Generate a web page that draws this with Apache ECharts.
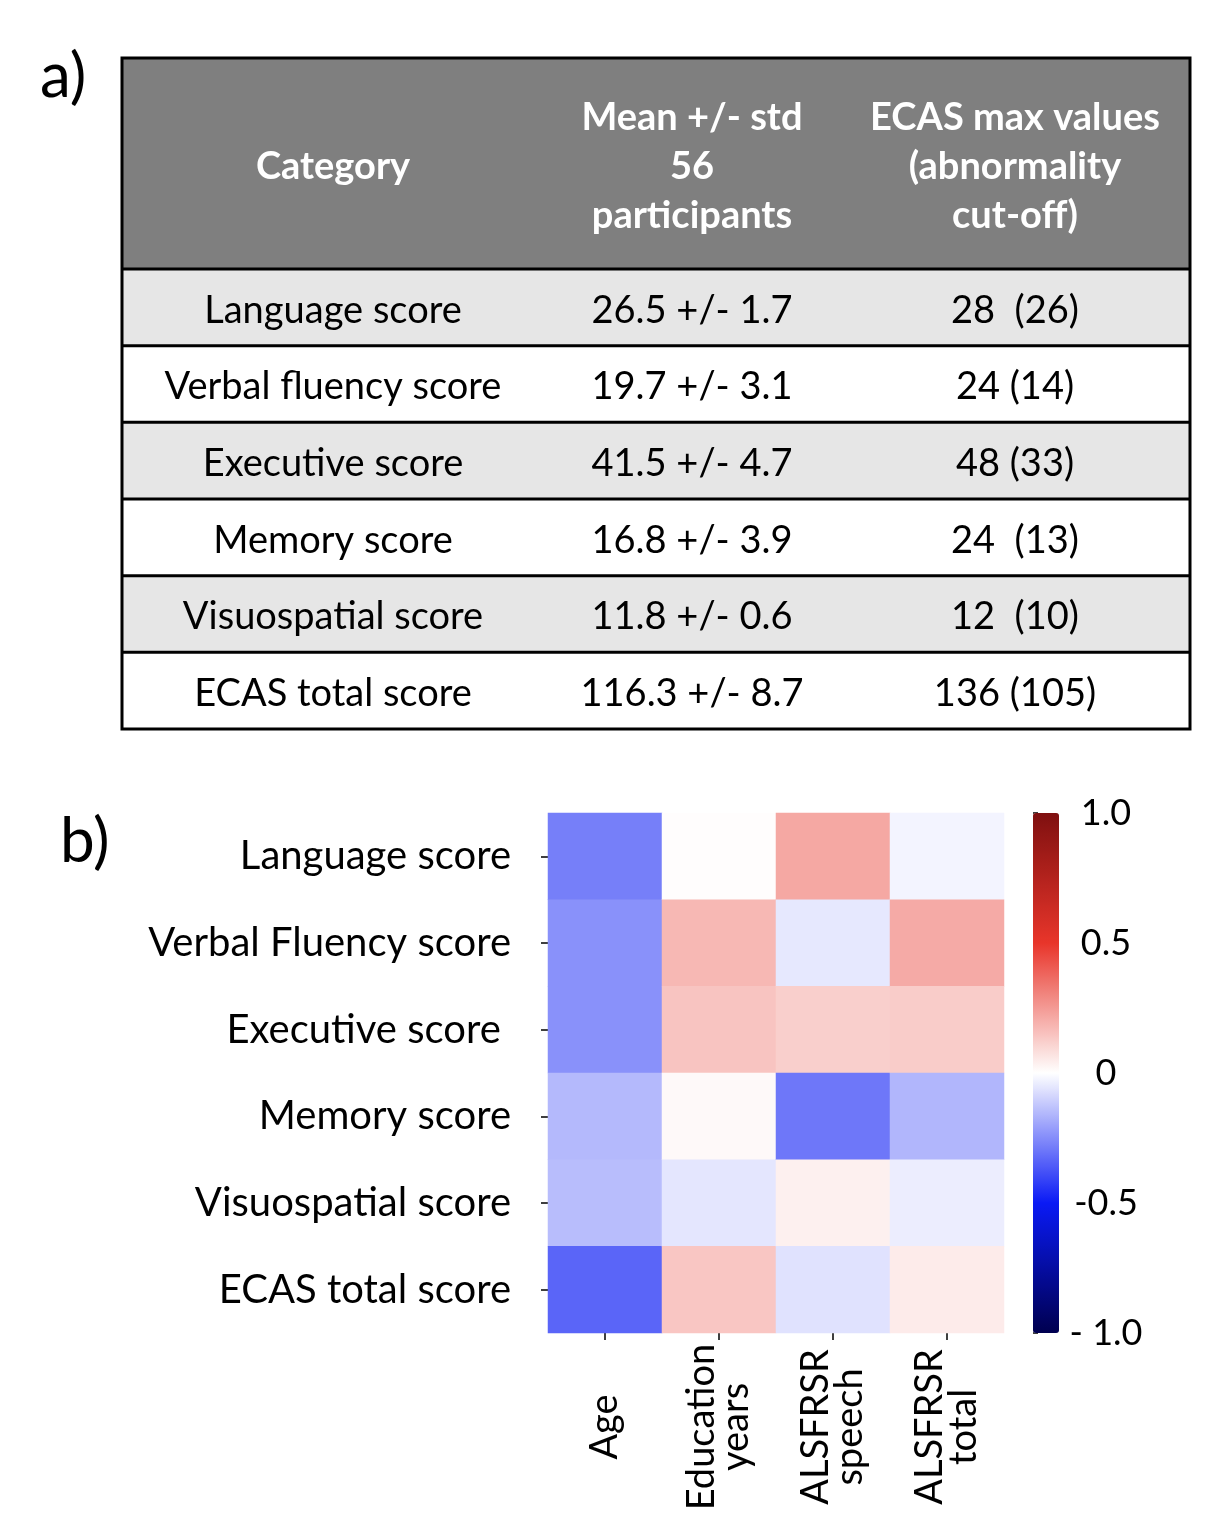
<!DOCTYPE html>
<html>
<head>
<meta charset="utf-8">
<script src="https://cdn.jsdelivr.net/npm/echarts@6/dist/echarts.min.js"></script>
<style>
html,body{margin:0;padding:0;background:#fff;}
#chart{width:1232px;height:1538px;}
</style>
</head>
<body>
<div id="chart"></div>
<script>
// ---------- Table (a) data ----------
const tableHeaderCategory = 'Category';
const tableHeaderMean = 'Mean +/- std\n56\nparticipants';
const tableHeaderMax = 'ECAS max values\n(abnormality\ncut-off)';
const tableCategories = ['Language score','Verbal fluency score','Executive score','Memory score','Visuospatial score','ECAS total score'];
const tableMeanStd = ['26.5 +/- 1.7','19.7 +/- 3.1','41.5 +/- 4.7','16.8 +/- 3.9','11.8 +/- 0.6','116.3 +/- 8.7'];
const tableMaxCutoff = ['28  (26)','24 (14)','48 (33)','24  (13)','12  (10)','136 (105)'];

// ---------- Heatmap (b) data ----------
const rowCategories = ['Language score','Verbal Fluency score','Executive score ','Memory score','Visuospatial score','ECAS total score'];
const colCategories = ['Age','Education\nyears','ALSFRSR\nspeech','ALSFRSR\ntotal'];
const corrAge       = [-0.28, -0.24, -0.24, -0.153, -0.145, -0.337];
const corrEducation = [ 0.005, 0.175, 0.146, 0.015, -0.055, 0.14];
const corrSpeech    = [ 0.215, -0.05, 0.12, -0.296, 0.037, -0.063];
const corrTotal     = [-0.025, 0.21, 0.126, -0.16, -0.039, 0.05];
const colorbarLabels = {'1':'1.0','0.5':'0.5','0':'0','-0.5':'-0.5','-1':'- 1.0'};

const FONT = 'Lato';
const columns = [corrAge, corrEducation, corrSpeech, corrTotal];
const heatData = [];
columns.forEach((col, ci) => col.forEach((v, ri) => heatData.push([ci, ri, v])));

// ---------- table graphic ----------
const T = {x:122, y:58, w:1068, headH:211, rowH:76.67, cx:[333,692,1015]};
const g = [];
g.push({type:'text', left:40, top:46, style:{text:'a)', font:'62px '+FONT, fill:'#000'}});
g.push({type:'text', left:60, top:811, style:{text:'b)', font:'62px '+FONT, fill:'#000'}});
g.push({type:'rect', shape:{x:T.x, y:T.y, width:T.w, height:T.headH}, style:{fill:'#7f7f7f'}});
tableCategories.forEach((c, i) => {
  const y = T.y + T.headH + i*T.rowH;
  g.push({type:'rect', shape:{x:T.x, y:y, width:T.w, height:T.rowH}, style:{fill: i%2===0 ? '#e6e6e6' : '#ffffff'}});
});
const headerTexts = [tableHeaderCategory, tableHeaderMean, tableHeaderMax];
headerTexts.forEach((t, i) => {
  g.push({type:'text', x:T.cx[i], y:T.y + T.headH/2 + 3, style:{text:t, font:'bold 38px '+FONT, fill:'#fff', align:'center', verticalAlign:'middle', lineHeight:49}});
});
tableCategories.forEach((c, i) => {
  const yc = T.y + T.headH + (i+0.5)*T.rowH + 3;
  [c, tableMeanStd[i], tableMaxCutoff[i]].forEach((t, j) => {
    g.push({type:'text', x:T.cx[j], y:yc, style:{text:t, font:'38px '+FONT, fill:'#000', align:'center', verticalAlign:'middle'}});
  });
});
for (let i = 0; i < tableCategories.length; i++) {
  const y = T.y + T.headH + i*T.rowH;
  g.push({type:'line', shape:{x1:T.x, y1:y, x2:T.x+T.w, y2:y}, style:{stroke:'#000', lineWidth:3}});
}
g.push({type:'rect', shape:{x:T.x, y:T.y, width:T.w, height:T.headH + 6*T.rowH}, style:{fill:'none', stroke:'#000', lineWidth:3}});

const chart = echarts.init(document.getElementById('chart'), null, {renderer:'canvas'});
chart.setOption({
  animation:false,
  backgroundColor:'#fff',
  graphic: g,
  grid:[
    {left:548, top:813, width:456, height:520},
    {left:1033, top:813, width:26, height:520}
  ],
  xAxis:[
    {type:'category', gridIndex:0, data:colCategories, position:'bottom',
     axisLine:{show:false}, splitLine:{show:false},
     axisTick:{show:true, alignWithLabel:true, length:7, lineStyle:{color:'#000', width:1.5}},
     axisLabel:{rotate:90, align:'center', verticalAlign:'middle', margin:94, fontFamily:FONT, fontSize:38, color:'#000', lineHeight:34}},
    {type:'value', gridIndex:1, show:false}
  ],
  yAxis:[
    {type:'category', gridIndex:0, data:rowCategories, inverse:true,
     axisLine:{show:false}, splitLine:{show:false},
     axisTick:{show:true, alignWithLabel:true, length:7, lineStyle:{color:'#000', width:1.5}},
     axisLabel:{margin:37, fontFamily:FONT, fontSize:40, color:'#000'}},
    {type:'value', gridIndex:1, position:'right', min:-1, max:1, interval:0.25,
     axisLine:{show:false}, splitLine:{show:false},
     axisTick:{show:true, length:5, lineStyle:{color:'#000', width:1.5}},
     axisLabel:{margin:47, align:'center', fontFamily:FONT, fontSize:36, color:'#000',
       formatter: v => { const k = String(Math.round(v*100)/100); return colorbarLabels[k] !== undefined ? colorbarLabels[k] : ''; }}}
  ],
  visualMap:{
    type:'continuous', min:-1, max:1, seriesIndex:0, calculable:false, realtime:false,
    orient:'vertical', left:1033, top:813, itemWidth:26, itemHeight:520, padding:0,
    text:null, showLabel:false,
    inRange:{color:['#00004f','#0a1af5','#ffffff','#e8352a','#7f1010']}
  },
  series:[
    {type:'heatmap', xAxisIndex:0, yAxisIndex:0, data:heatData, emphasis:{disabled:true}, itemStyle:{borderWidth:0}}
  ]
});
</script>
</body>
</html>
